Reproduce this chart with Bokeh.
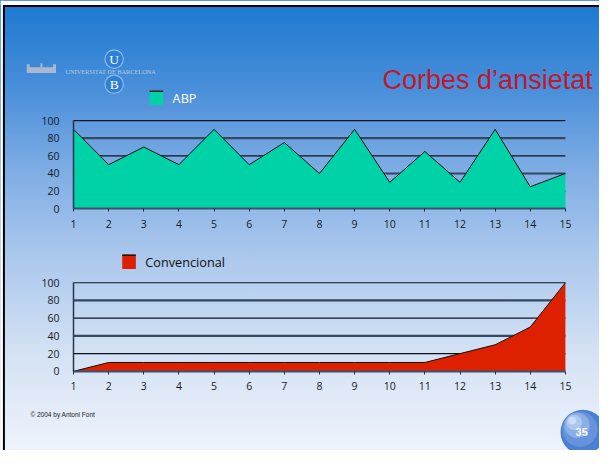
from bokeh.plotting import figure
from bokeh.models import Range1d, FixedTicker, LinearAxis
from bokeh.core.properties import value
from bokeh.embed import file_html
from bokeh.resources import INLINE

# ---- data ----
days = [1, 2, 3, 4, 5, 6, 7, 8, 9, 10, 11, 12, 13, 14, 15]
abp = [90, 50, 70, 50, 90, 50, 75, 40, 90, 30, 65, 30, 90, 25, 40]
convencional = [0, 10, 10, 10, 10, 10, 10, 10, 10, 10, 10, 20, 30, 50, 100]
y_ticks = [0, 20, 40, 60, 80, 100]
title_text = "Corbes d\u2019ansietat"
legend_top = "ABP"
legend_bottom = "Convencional"
university = "UNIVERSITAT DE BARCELONA"
footer_text = "\u00a9 2004 by Antoni Font"
page_number = "35"

# ---- layout (slide pixel geometry, scaled to the canvas) ----
W, H = 599, 450
SX, SY = W / 615, H / 466


def X(v):
    return [a * SX for a in v] if isinstance(v, list) else v * SX


def Y(v):
    return [a * SY for a in v] if isinstance(v, list) else v * SY


TEAL = "#00d2a8"
RED = "#dc2000"
TICK_FONT = "Open Sans"
SANS = "Liberation Sans"

p = figure(width=W, height=H, x_range=Range1d(0, W), y_range=Range1d(H, 0),
           output_backend="svg", toolbar_location=None, min_border=0,
           x_axis_location=None, y_axis_location=None)
p.grid.grid_line_color = None
p.outline_line_color = None
p.background_fill_alpha = 0
p.border_fill_alpha = 0
p.styles = {"background": "linear-gradient(to bottom, #1a78d0 0%, #4a8fda 20%, "
                          "#7fade4 38%, #a7c5ec 55%, #d3e1f4 78%, #eef3fb 100%)"}

# white page edge + black slide border
p.quad(left=[0, 0], right=[X(3), W], top=[0, 0], bottom=[H, Y(5)],
       fill_color="white", line_color=None)
p.segment(x0=[X(3.5), X(3)], y0=[Y(5), Y(5.8)], x1=[X(3.5), W], y1=[H, Y(5.8)],
          line_color="black", line_width=2)

# x range shared by both charts
x1p, x15p = X(75), X(580)


def ux(px):
    return days[0] + (px - x1p) * (days[-1] - days[0]) / (x15p - x1p)


p.extra_x_ranges = {"cx": Range1d(ux(0), ux(W))}


def add_chart(name, y0_ref, y100_ref, values, color):
    y0p, y100p = Y(y0_ref), Y(y100_ref)

    def vy(px):
        return (y0p - px) * 100 / (y0p - y100p)

    p.extra_y_ranges[name] = Range1d(vy(H), vy(0))
    kw = dict(x_range_name="cx", y_range_name=name)
    # horizontal gridlines
    thin = y_ticks[1::2][:0] + [t for i, t in enumerate(y_ticks) if i % 2 == 1]
    thick = [t for i, t in enumerate(y_ticks) if i % 2 == 0 and t > 0]
    p.segment(x0=days[0], x1=days[-1], y0=thin, y1=thin,
              line_color="#0d1420", line_width=1.2, **kw)
    p.segment(x0=days[0], x1=days[-1], y0=thick, y1=thick,
              line_color="#34495e", line_width=2.2, **kw)
    p.varea(x=days, y1=0, y2=values, fill_color=color, **kw)
    p.line(x=days, y=values, line_color="#101010", line_width=1, **kw)

    xax = LinearAxis(fixed_location=0, bounds=(days[0], days[-1]),
                     ticker=FixedTicker(ticks=days), **kw)
    yax = LinearAxis(fixed_location=days[0], bounds=(y_ticks[0], y_ticks[-1]),
                     ticker=FixedTicker(ticks=y_ticks), **kw)
    for ax in (xax, yax):
        ax.minor_tick_line_color = None
        ax.major_label_text_font = TICK_FONT
        ax.major_label_text_font_size = "10.5px"
        ax.major_label_text_color = "#161a26"
    xax.axis_line_color = "#3a5272"
    xax.axis_line_width = 2
    xax.major_tick_in = 0
    xax.major_tick_out = 3
    xax.major_tick_line_color = "#1e2a3a"
    xax.major_label_standoff = 8
    yax.axis_line_color = "#26364c"
    yax.axis_line_width = 1.5
    yax.major_tick_in = 0
    yax.major_tick_out = 0
    yax.major_label_standoff = 14
    p.add_layout(xax, "below")
    p.add_layout(yax, "left")


add_chart("top", 215.7, 124.3, abp, TEAL)
add_chart("bottom", 384, 292.3, convencional, RED)


def legend_box(x0, y0, color, label, text_color):
    p.quad(left=[X(x0)], right=[X(x0 + 14)], top=[Y(y0)], bottom=[Y(y0 + 15)],
           fill_color=color, line_color=None)
    p.segment(x0=[X(x0)], y0=[Y(y0 + 0.7)], x1=[X(x0 + 14)], y1=[Y(y0 + 0.7)],
              line_color="#1a1a1a", line_width=1.5)
    p.text(x=[X(x0 + 23.7)], y=[Y(y0 + 7.4)], text=[label], text_font=value("Open Sans"),
           text_font_size="12.7px", text_color=text_color, text_baseline="middle")


# ---- header ----
# building icon
p.quad(left=X([27, 29, 27, 54, 41]), right=X([57, 55, 30, 57, 43]),
       top=Y([72, 69, 66, 66, 65]), bottom=Y([75, 72, 72, 72, 69]),
       fill_color="#a9b8cc", line_color=None)
# UB circles
p.circle(x=X([116.7, 116.7]), y=Y([60.7, 86.7]), radius=9.2,
         fill_color="#2f80d4", line_color="#8dbbea", line_width=1.2)
p.text(x=X([116.7, 116.7]), y=Y([61.3, 87.3]), text=["U", "B"],
       text_font=value("Liberation Serif"), text_font_size="13.5px",
       text_color="white", text_align="center", text_baseline="middle")
p.text(x=[X(66.7)], y=[Y(73.3)], text=[university], text_font=value("Liberation Serif"),
       text_font_size="6.3px", text_color="#b9c9dd", text_baseline="middle")
# title
p.text(x=[X(608)], y=[Y(82.7)], text=[title_text], text_font=value(SANS),
       text_font_size="27px", text_color="#c0182c", text_align="right",
       text_baseline="alphabetic")
legend_box(153, 93.3, TEAL, legend_top, "white")
legend_box(125, 263, RED, legend_bottom, "#111111")

# ---- footer ----
p.text(x=[X(30.7)], y=[Y(429)], text=[footer_text], text_font=value(SANS),
       text_font_size="6.5px", text_color="#202020", text_baseline="middle")
p.circle(x=X([598, 595, 592, 589, 587]), y=Y([447, 444, 440, 437, 435]),
         radius=[22.4, 17.5, 12.6, 7.8, 3.9],
         fill_color=["#4a80d2", "#6893dc", "#8aaee6", "#adc6ef", "#cddcf4"],
         line_color=None)
p.text(x=[X(596.7)], y=[Y(446.7)], text=[page_number], text_font=value(SANS),
       text_font_size="11px", text_font_style="bold", text_color="white",
       text_align="center", text_baseline="middle")

open("out.html", "w").write(file_html(p, INLINE))
